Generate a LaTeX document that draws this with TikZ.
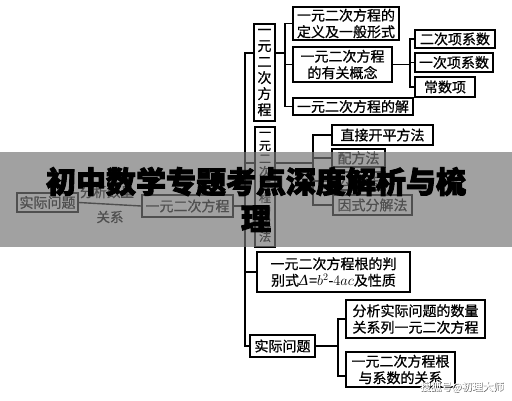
\documentclass[tikz,border=0pt]{standalone}
\usepackage{fontspec}
\newfontfamily\cjk[FakeBold=0.8]{Noto Sans CJK SC}
\newfontfamily\cjkb[FakeBold=3]{Noto Sans CJK SC}
\newfontfamily\dvs{DejaVu Serif}
\usetikzlibrary{calc}
\newcommand\mybox[7][]{\node[box,minimum width={(#5-#3)*1pt},minimum height={(#6-#4)*1pt},#1] (#2) at ({(#3+#5)/2},{(#4+#6)/2}) {#7};}
\begin{document}
\begin{tikzpicture}[x=1pt,y=-1pt,
  box/.style={draw,line width=1.6pt,inner sep=0pt,align=center,font=\cjk\fontsize{14}{16.5}\selectfont},
  conn/.style={line width=1.4pt},
  lbl/.style={font=\cjk\fontsize{13.5}{15}\selectfont,inner sep=0pt}]
\useasboundingbox (0,0) rectangle (512,400);
\fill[white] (0,0) rectangle (512,400);

% boxes
\mybox[font=\cjk\fontsize{14}{16}\selectfont]{v1}{254}{24}{275}{121}{一\\元\\二\\次\\方\\程}
\mybox{A}{293}{7}{399}{40}{一元二次方程的\\定义及一般形式}
\mybox{B}{293}{47}{392}{82}{一元二次方程\\的有关概念}
\mybox{C}{293}{98}{413}{115}{一元二次方程的解}
\mybox{B1}{415}{30}{495}{48}{二次项系数}
\mybox{B2}{415}{53}{493}{72}{一次项系数}
\mybox{B3}{415}{77}{475}{97}{常数项}
\mybox[font=\cjk\fontsize{12}{13}\selectfont]{v2}{255}{127}{275}{247}{一\\元\\二\\次\\方\\程\\的\\解\\法}
\mybox{D1}{332}{125}{433}{145}{直接开平方法}
\mybox{D2}{332}{149}{385}{167}{配方法}
\mybox{D3}{332}{172}{385}{190}{公式法}
\mybox{D4}{333}{195}{412}{215}{因式分解法}
\mybox{disc}{257}{252}{410}{292}{一元二次方程根的判\\别式{\dvs\itshape Δ}=$b^2$-$4ac$及性质}
\mybox{prac}{250}{335}{315}{357}{实际问题}
\mybox{E1}{346}{300}{485}{338}{分析实际问题的数量\\关系列一元二次方程}
\mybox{E2}{346}{352}{455}{387}{一元二次方程根\\与系数的关系}
\mybox{L1}{17}{193}{78}{212}{实际问题}
\mybox{L2}{142}{195}{233}{217}{一元二次方程}

% trunk
\coordinate (t1) at (245,53);
\coordinate (b2) at (245,163);
\draw[conn] (v1.west |- t1) -- (t1) |- (prac.west);
\draw[conn] (v2.west |- b2) -- (b2);
\draw[conn] (disc.west) -- (disc.west -| t1);
\draw[conn] (L2.east) -- (L2.east -| t1);

% bracket 1
\coordinate (j1) at (285,53);
\draw[conn] (v1.east |- j1) -- (j1);
\draw[conn] (A.west) -- (A.west -| j1) -- (C.west -| j1) -- (C.west);
\draw[conn] (B.west) -- (B.west -| j1);

% bracket 2
\coordinate (j2) at (410,64);
\draw[conn] (B.east) -- (B.east -| j2);
\draw[conn] (B1.west) -- (B1.west -| j2) -- (B3.west -| j2) -- (B3.west);
\draw[conn] (B2.west) -- (B2.west -| j2);

% bracket 3
\coordinate (j3) at (313,163);
\draw[conn] (v2.east |- j3) -- (j3);
\draw[conn] (D1.west) -- (D1.west -| j3) -- (D4.west -| j3) -- (D4.west);
\draw[conn] (D2.west) -- (D2.west -| j3);
\draw[conn] (D3.west) -- (D3.west -| j3);

% bracket 4
\coordinate (j4) at (338,346);
\coordinate (k4) at (338,376);
\draw[conn] (prac.east) -- (prac.east -| j4);
\draw[conn] (E1.west) -- (E1.west -| j4) -- (k4) -- (k4 -| E2.west);

% left chain
\draw[conn] (L1.east) -- (L2.west);
\node[lbl] (l1) at (107,192) {分析数量};
\node[lbl] (l2) at (110,217) {关系};

% overlay banner
\fill[black!54,opacity=0.68] (0,152) rectangle (512,247);
\node[font=\cjkb\bfseries\fontsize{30}{37}\selectfont,align=center,inner sep=0pt] (title) at (256,199.5) {初中数学专题考点深度解析与梳\\理};

% watermark
\node[font=\cjk\fontsize{10.5}{12}\selectfont,text=black!60,inner sep=0pt] (wms) at (462.6,387.6) {搜狐号@初理大师};
\node[font=\cjk\fontsize{10.5}{12}\selectfont,text=white,inner sep=0pt] (wm) at (462,387) {搜狐号@初理大师};
\end{tikzpicture}
\end{document}
